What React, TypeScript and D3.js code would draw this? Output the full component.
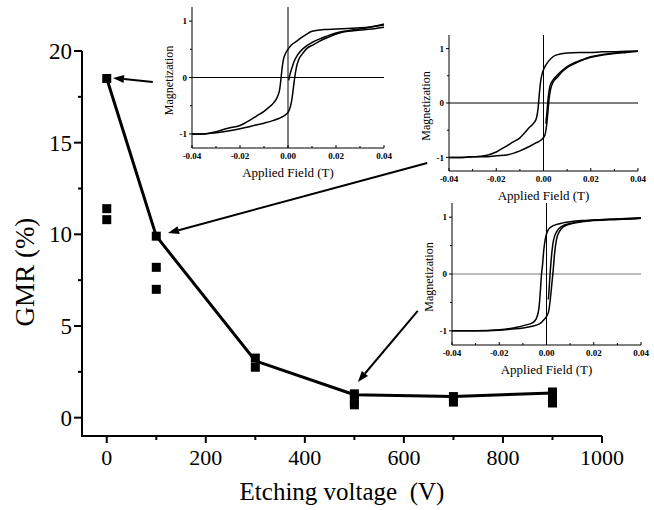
import React from "react";
import * as d3 from "d3";

// ---------- main chart data ----------
const trendVoltage = [0, 100, 300, 500, 700, 900];
const trendGmr = [18.5, 9.9, 3.1, 1.25, 1.15, 1.35];
const sampleVoltage = [0, 0, 0, 100, 100, 100, 300, 300, 500, 500, 500, 700, 700, 900, 900, 900];
const sampleGmr = [18.5, 11.4, 10.8, 9.9, 8.2, 7.0, 3.25, 2.75, 1.3, 0.95, 0.7, 1.15, 0.85, 1.4, 1.05, 0.8];
const xTicks = [0, 200, 400, 600, 800, 1000];
const xMinorTicks = [100, 300, 500, 700, 900];
const yTicks = [0, 5, 10, 15, 20];
const yMinorTicks = [2.5, 7.5, 12.5, 17.5];

// arrows (main-chart data units)
const arrowFromV = [93, 647, 628];
const arrowFromG = [18.31, 13.89, 5.82];
const arrowToV = [12.6, 123.7, 507];
const arrowToG = [18.53, 10.07, 1.95];

// ---------- inset data: hysteresis loops [H (T), M] ----------
const inset1Desc = [[0.04,0.93],[0.035,0.9],[0.03,0.88],[0.025,0.87],[0.02,0.86],[0.015,0.85],[0.01,0.82],[0.0075,0.76],[0.005,0.69],[0.0035,0.64],[0.0015,0.58],[0,0.5],[-0.001,0.43],[-0.002,0.3],[-0.0025,0.15],[-0.003,-0.05],[-0.0035,-0.22],[-0.0045,-0.35],[-0.006,-0.45],[-0.008,-0.53],[-0.01,-0.6],[-0.013,-0.68],[-0.016,-0.76],[-0.02,-0.85],[-0.025,-0.9],[-0.03,-0.96],[-0.035,-1.0],[-0.04,-1.0]];
const inset1Asc = [[-0.04,-1.0],[-0.035,-1.0],[-0.03,-0.98],[-0.025,-0.95],[-0.02,-0.91],[-0.015,-0.86],[-0.01,-0.81],[-0.006,-0.76],[-0.003,-0.71],[-0.001,-0.66],[0.0005,-0.58],[0.0015,-0.42],[0.0022,-0.2],[0.0028,0.0],[0.0035,0.18],[0.0045,0.32],[0.006,0.42],[0.008,0.52],[0.0105,0.58],[0.013,0.64],[0.016,0.7],[0.0215,0.79],[0.025,0.82],[0.03,0.84],[0.035,0.86],[0.04,0.89]];
const inset1Virgin = [[0.0003,-0.05],[0.0008,0.05],[0.0015,0.15],[0.0025,0.28],[0.004,0.4],[0.006,0.5],[0.008,0.57],[0.01,0.62],[0.013,0.68],[0.016,0.73],[0.02,0.79],[0.025,0.83],[0.03,0.86],[0.035,0.9],[0.04,0.95]];

const inset2Desc = [[0.04,0.95],[0.035,0.95],[0.03,0.94],[0.025,0.94],[0.02,0.93],[0.015,0.93],[0.01,0.92],[0.007,0.9],[0.004,0.85],[0.002,0.76],[0.0005,0.66],[-0.0005,0.55],[-0.0012,0.4],[-0.0018,0.15],[-0.0023,-0.1],[-0.003,-0.28],[-0.004,-0.36],[-0.006,-0.45],[-0.008,-0.55],[-0.01,-0.64],[-0.013,-0.72],[-0.016,-0.8],[-0.02,-0.9],[-0.025,-0.97],[-0.03,-0.99],[-0.035,-1.0],[-0.04,-1.0]];
const inset2Asc = [[-0.04,-1.0],[-0.035,-1.0],[-0.03,-0.99],[-0.025,-0.99],[-0.02,-0.97],[-0.015,-0.95],[-0.01,-0.88],[-0.006,-0.8],[-0.003,-0.73],[-0.001,-0.68],[0.0005,-0.6],[0.0012,-0.45],[0.0018,-0.2],[0.0023,0.05],[0.003,0.25],[0.004,0.38],[0.006,0.48],[0.008,0.58],[0.01,0.65],[0.013,0.72],[0.016,0.78],[0.02,0.84],[0.025,0.88],[0.03,0.91],[0.035,0.93],[0.04,0.95]];
const inset2Virgin = [[0.001,-0.38],[0.0015,-0.15],[0.002,0.1],[0.0028,0.32],[0.004,0.42],[0.006,0.52],[0.008,0.6],[0.01,0.67],[0.013,0.74],[0.016,0.79],[0.02,0.85],[0.025,0.89],[0.03,0.92],[0.04,0.95]];

const inset3Desc = [[0.04,0.98],[0.035,0.97],[0.03,0.97],[0.025,0.96],[0.02,0.95],[0.015,0.94],[0.01,0.92],[0.007,0.9],[0.004,0.87],[0.002,0.83],[0.0005,0.76],[-0.0005,0.62],[-0.0012,0.4],[-0.0017,0.15],[-0.0021,0.0],[-0.0026,-0.3],[-0.0032,-0.6],[-0.0045,-0.8],[-0.006,-0.86],[-0.009,-0.9],[-0.013,-0.94],[-0.02,-0.98],[-0.03,-1.0],[-0.04,-1.0]];
const inset3Asc = [[-0.04,-1.0],[-0.03,-1.0],[-0.02,-0.99],[-0.015,-0.97],[-0.01,-0.95],[-0.006,-0.92],[-0.003,-0.88],[-0.001,-0.8],[0.0008,-0.68],[0.0016,-0.45],[0.0022,-0.2],[0.0028,0.05],[0.0034,0.35],[0.0042,0.6],[0.0055,0.75],[0.0075,0.84],[0.01,0.88],[0.015,0.92],[0.02,0.94],[0.03,0.96],[0.04,0.98]];
const inset3Virgin = [[0.0008,-0.45],[0.0012,-0.2],[0.0016,0.05],[0.0022,0.35],[0.003,0.6],[0.0045,0.76],[0.0065,0.84],[0.01,0.89],[0.015,0.93],[0.02,0.95],[0.03,0.97],[0.04,0.99]];

const insetXTicks = [-0.04, -0.02, 0, 0.02, 0.04];
const insetXTickLabels = ["-0.04", "-0.02", "0.00", "0.02", "0.04"];
const insetXMinor = [-0.03, -0.01, 0.01, 0.03];
const insetYTicks = [-1, 0, 1];
const insetYMinor = [-0.5, 0.5];

const FONT = "'Liberation Serif', 'Times New Roman', 'DejaVu Serif', serif";

type Box = { left: number; right: number; top: number; bottom: number; zeroColor: string };
const insetBoxes: Box[] = [
  { left: 192, right: 384, top: 7, bottom: 148, zeroColor: "#000" },
  { left: 449, right: 638, top: 35, bottom: 171, zeroColor: "#000" },
  { left: 452, right: 641, top: 203, bottom: 345, zeroColor: "#777" },
];
const insetCurves = [
  [inset1Desc, inset1Asc, inset1Virgin],
  [inset2Desc, inset2Asc, inset2Virgin],
  [inset3Desc, inset3Asc, inset3Virgin],
];

function Inset({ box, curves }: { box: Box; curves: number[][][] }) {
  const x = d3.scaleLinear().domain([-0.04, 0.04]).range([box.left, box.right]);
  const y = d3.scaleLinear().domain([-1.25, 1.25]).range([box.bottom, box.top]);
  const line = d3
    .line<number[]>()
    .x((d) => x(d[0]))
    .y((d) => y(d[1]))
    .curve(d3.curveMonotoneX);
  return (
    <g>
      <line x1={box.left} x2={box.right} y1={y(0)} y2={y(0)} stroke={box.zeroColor} strokeWidth={1} />
      <line x1={x(0)} x2={x(0)} y1={box.top} y2={box.bottom} stroke="#000" strokeWidth={1} />
      <line x1={box.left} x2={box.left} y1={box.top} y2={box.bottom} stroke="#000" strokeWidth={1} />
      <line x1={box.left} x2={box.right} y1={box.bottom} y2={box.bottom} stroke="#000" strokeWidth={1} />
      {insetXTicks.map((t) => (
        <line key={"xt" + t} x1={x(t)} x2={x(t)} y1={box.bottom} y2={box.bottom - 3} stroke="#000" />
      ))}
      {insetXMinor.map((t) => (
        <line key={"xm" + t} x1={x(t)} x2={x(t)} y1={box.bottom} y2={box.bottom - 2} stroke="#000" />
      ))}
      {insetYTicks.map((t) => (
        <line key={"yt" + t} x1={box.left} x2={box.left - 3} y1={y(t)} y2={y(t)} stroke="#000" />
      ))}
      {insetYMinor.map((t) => (
        <line key={"ym" + t} x1={box.left} x2={box.left - 2} y1={y(t)} y2={y(t)} stroke="#000" />
      ))}
      {insetXTicks.map((t, i) => (
        <text key={"xl" + t} x={x(t)} y={box.bottom + 11} fontSize={9} fontWeight="bold" textAnchor="middle" fontFamily={FONT}>
          {insetXTickLabels[i]}
        </text>
      ))}
      {insetYTicks.map((t) => (
        <text key={"yl" + t} x={box.left - 5} y={y(t)} dy="0.35em" fontSize={9} fontWeight="bold" textAnchor="end" fontFamily={FONT}>
          {t}
        </text>
      ))}
      <text
        transform={`translate(${box.left - 23},${(box.top + box.bottom) / 2 + 3}) rotate(-90)`}
        textAnchor="middle"
        dy="0.35em"
        fontSize={12}
        fontFamily={FONT}
      >
        Magnetization
      </text>
      <text x={(box.left + box.right) / 2} y={box.bottom + 29} textAnchor="middle" fontSize={13} fontFamily={FONT}>
        Applied Field (T)
      </text>
      {curves.map((c, i) => {
        const sorted = [...c].sort((a, b) => a[0] - b[0]);
        return <path key={i} d={line(sorted) || ""} fill="none" stroke="#000" strokeWidth={1.5} />;
      })}
    </g>
  );
}

export default function App() {
  const W = 654;
  const H = 510;
  const x = d3.scaleLinear().domain([-50, 1000]).range([82, 602]);
  const y = d3.scaleLinear().domain([-1, 20]).range([436, 51]);
  const trend = trendVoltage.map((v, i) => [v, trendGmr[i]]);
  const trendLine = d3
    .line<number[]>()
    .x((d) => x(d[0]))
    .y((d) => y(d[1]));
  const sq = 9;

  const arrows = arrowFromV.map((_, i) => {
    const x1 = x(arrowFromV[i]);
    const y1 = y(arrowFromG[i]);
    const x2 = x(arrowToV[i]);
    const y2 = y(arrowToG[i]);
    const ang = Math.atan2(y2 - y1, x2 - x1);
    const L = 11;
    const hw = 4;
    const bx = x2 - L * Math.cos(ang);
    const by = y2 - L * Math.sin(ang);
    const px = -Math.sin(ang) * hw;
    const py = Math.cos(ang) * hw;
    return { x1, y1, bx, by, x2, y2, px, py };
  });

  return (
    <svg width={W} height={H} style={{ position: "absolute", left: 0, top: 0, background: "#fff" }} fontFamily={FONT}>
      <rect width={W} height={H} fill="#fff" />
      {insetBoxes.map((b, i) => (
        <Inset key={i} box={b} curves={insetCurves[i]} />
      ))}

      <line x1={x(-50)} x2={x(-50)} y1={y(20)} y2={y(-1)} stroke="#000" strokeWidth={2} />
      <line x1={x(-50) - 1} x2={x(1000)} y1={y(-1)} y2={y(-1)} stroke="#000" strokeWidth={2} />
      {yTicks.map((t) => (
        <g key={"y" + t}>
          <line x1={x(-50)} x2={x(-50) - 8} y1={y(t)} y2={y(t)} stroke="#000" strokeWidth={2} />
          <text x={x(-50) - 10} y={y(t)} dy="0.35em" textAnchor="end" fontSize={23}>
            {t}
          </text>
        </g>
      ))}
      {yMinorTicks.map((t) => (
        <line key={"ym" + t} x1={x(-50)} x2={x(-50) - 4} y1={y(t)} y2={y(t)} stroke="#000" strokeWidth={2} />
      ))}
      {xTicks.map((t) => (
        <g key={"x" + t}>
          <line x1={x(t)} x2={x(t)} y1={y(-1)} y2={y(-1) + 7} stroke="#000" strokeWidth={2} />
          <text x={x(t)} y={465} textAnchor="middle" fontSize={22}>
            {t}
          </text>
        </g>
      ))}
      {xMinorTicks.map((t) => (
        <line key={"xm" + t} x1={x(t)} x2={x(t)} y1={y(-1)} y2={y(-1) + 4} stroke="#000" strokeWidth={2} />
      ))}
      <text x={(x(-50) + x(1000)) / 2} y={500} textAnchor="middle" fontSize={25}>
        Etching voltage{"\u00a0"} (V)
      </text>
      <text transform={`translate(25,272) rotate(-90)`} textAnchor="middle" dy="0.35em" fontSize={27}>
        GMR (%)
      </text>

      <path d={trendLine(trend) || ""} fill="none" stroke="#000" strokeWidth={3} strokeLinejoin="round" />
      {sampleVoltage.map((v, i) => (
        <rect key={"p" + i} x={x(v) - sq / 2} y={y(sampleGmr[i]) - sq / 2} width={sq} height={sq} fill="#000" />
      ))}

      {arrows.map((a, i) => (
        <g key={"a" + i}>
          <line x1={a.x1} y1={a.y1} x2={a.bx} y2={a.by} stroke="#000" strokeWidth={2} />
          <path d={`M${a.x2},${a.y2} L${a.bx + a.px},${a.by + a.py} L${a.bx - a.px},${a.by - a.py} Z`} fill="#000" />
        </g>
      ))}
    </svg>
  );
}
